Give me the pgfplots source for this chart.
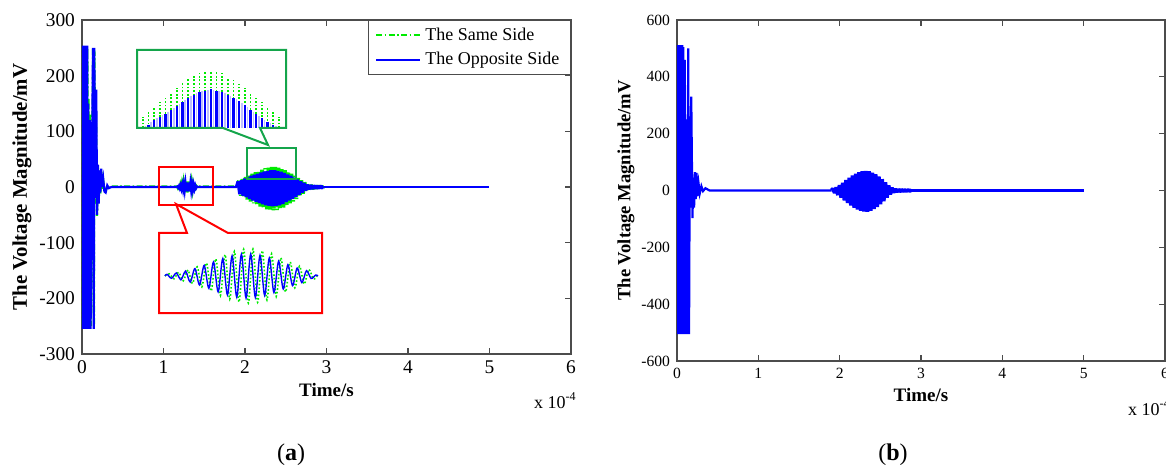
\documentclass[border=0pt]{standalone}
\usepackage{fontspec}
\setmainfont{Liberation Serif}
\usepackage{pgfplots}
\pgfplotsset{compat=1.18}
\definecolor{lgreen}{RGB}{0,235,0}
\definecolor{boxgreen}{RGB}{20,165,75}
\begin{document}
\begin{tikzpicture}
\useasboundingbox (0,0) rectangle (583pt,233pt);
\pgfplotsset{
  mainax/.style={
    scale only axis, anchor=south west, xmin=0, xmax=6, xtick={0,1,2,3,4,5,6},
    tick align=inside, major tick length=3pt,
    axis line style={black!70, line width=0.6pt},
    every tick/.style={black!70, line width=0.6pt},
    /pgf/number format/assume math mode=true,
    xlabel={Time/s}, ylabel={The Voltage Magnitude/mV},
  },
  sameside/.style={lgreen, line width=1.1pt, dash pattern=on 3pt off 1.2pt on 0.8pt off 1.2pt},
  oppside/.style={blue, line width=1.1pt},
  burst/.style={line width=2pt, line join=bevel, forget plot},
}
% ---------------- panel (a)
\begin{axis}[mainax, name=axA, at={(41pt,56pt)}, width=244.5pt, height=167pt,
  ymin=-300, ymax=300, ytick={-300,-200,-100,0,100,200,300},
  tick label style={font=\fontsize{9.7}{11}\selectfont},
  xlabel style={font=\fontsize{9.5}{11}\selectfont\bfseries, at={(axis description cs:0.5,0)}, anchor=center, yshift=-18pt},
  ylabel style={font=\fontsize{10.4}{12}\selectfont\bfseries, at={(axis description cs:-0.1227,0.5)}, anchor=center},
  legend style={at={(1,1)}, anchor=north east, draw=black!70, line width=0.6pt,
    font=\fontsize{9}{10.5}\selectfont, inner xsep=3.5pt, inner ysep=1.5pt, row sep=0.5pt},
  legend cell align=left,
  legend image code/.code={\draw[#1] (0pt,0pt) -- (22pt,0pt);},
]
\addplot[sameside] coordinates {
(0,0)(0.006,250)(0.012,-252)(0.018,250)(0.024,-252)(0.030,250)(0.036,-252)(0.042,250)(0.048,-252)(0.054,250)(0.060,-252)(0.066,250)(0.072,-252)(0.080,160)(0.088,-250)(0.098,130)(0.108,-250)(0.122,0)(0.136,248)(0.146,-250)(0.152,245)(0.166,-30)(0.172,135)(0.185,-52)(0.195,35)(0.205,-25)(0.215,28)(0.225,-12)(0.235,30)(0.245,-3)(0.26,12)(0.275,-9)(0.29,-8)(0.31,2)(0.33,-1)(0.36,1)(1.15,1)
(1.165,1)(1.175,-2)(1.185,2.5)(1.195,-3)(1.205,4)(1.215,-4.5)(1.225,5.5)(1.235,-6)(1.245,7)(1.255,-8)(1.265,8.5)(1.275,-9)(1.285,10)(1.295,-10)(1.305,10)(1.315,-9.5)(1.325,9)(1.335,-8)(1.345,7)(1.355,-6)(1.365,5)(1.375,-4)(1.385,3)(1.395,-2)(1.405,1.5)(1.415,-1)(1.43,1)(1.91,1)
};
\addlegendentry{The Same Side}
\addplot[sameside, burst] coordinates {
(1.91,1)(1.93,12)(1.95,-15.4)(1.97,14.4)(1.99,-18.9)(2.01,18)(2.03,-22.4)(2.05,20.4)(2.07,-25.9)(2.09,24)(2.11,-29.4)(2.13,26.4)(2.15,-32.2)(2.17,28.8)(2.19,-35)(2.21,31.2)(2.23,-37.8)(2.25,33.6)(2.27,-39.9)(2.29,34.8)(2.31,-41.3)(2.33,36)(2.35,-42)(2.37,36)(2.39,-41.3)(2.41,34.8)(2.43,-39.9)(2.45,33)(2.47,-37.1)(2.49,30)(2.51,-32.9)(2.53,27)(2.55,-29.4)(2.57,24)(2.59,-25.9)(2.61,20.4)(2.63,-21.7)(2.65,16.2)(2.67,-16.8)(2.69,12)(2.71,-11.9)(2.73,8.4)(2.75,-7.7)(2.77,4.8)(2.79,-4.9)(2.81,3.6)(2.83,-3.5)(2.85,2.4)(2.87,-2.1)(2.89,1.2)(2.91,-1.4)(2.93,0.6)(2.95,-0.7)(2.97,0)
};
\addplot[sameside, forget plot] coordinates {(2.97,0)(5,0)};
\addplot[oppside] coordinates {
(0,0)(0.004,254)(0.010,-255)(0.016,254)(0.022,-255)(0.028,254)(0.034,-255)(0.040,254)(0.046,-255)(0.052,254)(0.058,-255)(0.064,254)(0.070,-255)(0.076,150)(0.085,-255)(0.095,120)(0.105,-255)(0.120,0)(0.135,250)(0.145,-255)(0.150,250)(0.165,-20)(0.175,175)(0.185,-50)(0.195,40)(0.205,-30)(0.215,30)(0.225,-10)(0.235,33)(0.245,0)(0.26,15)(0.275,-8)(0.29,-10)(0.31,3)(0.33,-2)(0.36,0)(1.16,0)
(1.17,1)(1.18,-1.5)(1.19,2)(1.20,-2.5)(1.21,3)(1.22,-3.5)(1.23,4.5)(1.24,-5)(1.25,6)(1.26,-6.5)(1.27,7)(1.28,-7.5)(1.29,8)(1.30,-8)(1.31,8)(1.32,-7.5)(1.33,7)(1.34,-6.5)(1.35,6)(1.36,-5)(1.37,4.5)(1.38,-3.5)(1.39,3)(1.40,-2)(1.41,1)(1.42,0)(1.90,0)
};
\addlegendentry{The Opposite Side}
\addplot[oppside, burst] coordinates {
(1.90,0)(1.92,10)(1.94,-12.7)(1.96,12)(1.98,-15.5)(2.00,15)(2.02,-18.4)(2.04,17)(2.06,-21.3)(2.08,20)(2.10,-24.2)(2.12,22)(2.14,-26.5)(2.16,24)(2.18,-28.8)(2.20,26)(2.22,-31.1)(2.24,28)(2.26,-32.8)(2.28,29)(2.30,-33.9)(2.32,30)(2.34,-34.5)(2.36,30)(2.38,-33.9)(2.40,29)(2.42,-32.8)(2.44,27.5)(2.46,-30.5)(2.48,25)(2.50,-27.0)(2.52,22.5)(2.54,-24.2)(2.56,20)(2.58,-21.3)(2.60,17)(2.62,-17.8)(2.64,13.5)(2.66,-13.8)(2.68,10)(2.70,-9.8)(2.72,7)(2.74,-6.3)(2.76,4)(2.78,-4.0)(2.80,3)(2.82,-2.9)(2.84,2)(2.86,-1.7)(2.88,1)(2.90,-1.2)(2.92,0.5)(2.94,-0.6)(2.96,0)
};
\addplot[oppside, forget plot] coordinates {(2.96,0)(5,0)};
\end{axis}
% ---------------- panel (b)
\begin{axis}[mainax, name=axB, at={(338.5pt,52.5pt)}, width=244pt, height=170.5pt,
  ymin=-600, ymax=600, ytick={-600,-400,-200,0,200,400,600},
  tick label style={font=\fontsize{7.8}{9}\selectfont},
  xlabel style={font=\fontsize{9.5}{11}\selectfont\bfseries, at={(axis description cs:0.5,0)}, anchor=center, yshift=-17pt},
  ylabel style={font=\fontsize{9.3}{11}\selectfont\bfseries, at={(axis description cs:-0.1045,0.5)}, anchor=center},
]
\addplot[oppside] coordinates {
(0,0)(0.004,512)(0.010,-505)(0.016,512)(0.022,-505)(0.028,512)(0.034,-505)(0.040,512)(0.046,-505)(0.052,512)(0.058,-505)(0.064,512)(0.070,-505)(0.078,505)(0.086,-505)(0.095,460)(0.105,-505)(0.115,250)(0.125,-505)(0.138,500)(0.148,-505)(0.158,250)(0.165,-60)(0.175,330)(0.19,-97)(0.20,45)(0.21,-60)(0.22,65)(0.23,-30)(0.24,62)(0.25,-20)(0.265,25)(0.28,-10)(0.30,15)(0.32,-2)(0.35,8)(0.40,0)(1.90,0)
};
\addplot[oppside, burst] coordinates {
(1.90,0)(1.92,6)(1.94,-8.6)(1.96,11)(1.98,-16.2)(2.00,19)(2.02,-24.8)(2.04,27)(2.06,-34.6)(2.08,37)(2.10,-44.3)(2.12,45)(2.14,-52.9)(2.16,53)(2.18,-60.5)(2.20,59)(2.22,-67)(2.24,64)(2.26,-71.3)(2.28,67.5)(2.30,-74)(2.32,69)(2.34,-74.5)(2.36,68)(2.38,-71.3)(2.40,63)(2.42,-64.8)(2.44,57)(2.46,-58.3)(2.48,49)(2.50,-48.6)(2.52,40)(2.54,-37.8)(2.56,29)(2.58,-24.8)(2.60,18)(2.62,-14)(2.64,10)(2.66,-7.6)(2.68,5)(2.70,-4.3)(2.72,3)(2.74,-2.7)(2.76,2)(2.78,-1.6)(2.80,1.2)(2.82,-1.1)(2.84,0.7)(2.86,-0.4)(2.88,0)
};
\addplot[oppside, forget plot] coordinates {(2.88,0)(5,0)};
\end{axis}
% ---------------- inset: comb (green box)
\begin{axis}[at={(68.5pt,169pt)}, anchor=south west, scale only axis, width=74.5pt, height=39pt,
  xmin=0, xmax=149, ymin=0, ymax=78, hide axis, clip=false]
\addplot[ycomb, lgreen, line width=0.9pt, dash pattern=on 0.9pt off 0.9pt] coordinates {
(5.7,11)(11.4,16)(17.0,21)(22.7,26)(28.4,30)(34.0,35)(39.7,40)(45.4,45)(51.1,50)(56.7,53)(62.4,55)(68.1,57)(73.7,57)(79.4,57)(85.1,55)(90.8,50)(96.4,48)(102.1,44)(107.8,40)(113.4,35)(119.1,30)(124.8,26)(130.4,21)(136.1,16)(141.8,11)
};
\addplot[ycomb, blue!25, line width=0.8pt] coordinates {
(8.5,1.5)(14.2,5.5)(19.9,9.5)(25.5,12.5)(31.2,16)(36.9,20)(42.5,24)(48.2,28)(53.9,31.5)(59.6,34.5)(65.2,36.5)(70.9,38)(76.6,38)(82.2,36.5)(87.9,34.5)(93.6,31.5)(99.3,28.5)(104.9,25)(110.6,20.5)(116.3,16)(121.9,12)(127.6,8)(133.3,4.5)(139.0,1.5)
};
\addplot[ycomb, blue, line width=1.1pt] coordinates {
(5.7,0)(11.4,3)(17.0,8)(22.7,11)(28.4,14)(34.0,18)(39.7,22)(45.4,26)(51.1,30)(56.7,33)(62.4,36)(68.1,37)(73.7,39)(79.4,37)(85.1,36)(90.8,33)(96.4,30)(102.1,27)(107.8,23)(113.4,18)(119.1,14)(124.8,10)(130.4,6)(136.1,3)(141.8,0)
};
\end{axis}
% ---------------- inset: wave (red box)
\begin{axis}[at={(79.5pt,76.5pt)}, anchor=south west, scale only axis, width=81.5pt, height=40pt,
  xmin=0, xmax=163, ymin=-40, ymax=40, hide axis, clip=false]
\addplot[lgreen, line width=0.8pt, densely dotted, smooth] coordinates {
(6,-3)(10.3,-0.9)(14.95,-5.8)(19.6,0.7)(24.25,-7.7)(28.9,3.0)(33.55,-10.5)(38.2,6.1)(42.85,-13.9)(47.5,10.0)(52.15,-18.1)(56.8,14.2)(61.45,-22.4)(66.1,18.4)(70.75,-26.2)(75.4,21.7)(80.05,-29.0)(84.7,23.7)(89.35,-30.1)(94.0,23.9)(98.65,-29.3)(103.3,22.3)(107.95,-26.9)(112.6,19.1)(117.25,-23.3)(121.9,15.2)(126.55,-19.0)(131.2,10.9)(135.85,-14.8)(140.5,6.8)(145.15,-11.1)(149.8,3.5)(154.45,-6)(158,-3)
};
\addplot[blue, line width=0.7pt, smooth] coordinates {
(6,-3)(8,-1.3)(12.65,-5.3)(17.3,0)(21.95,-6.8)(26.6,1.9)(31.25,-9.1)(35.9,4.4)(40.55,-11.9)(45.2,7.6)(49.85,-15.3)(54.5,11.0)(59.15,-18.8)(63.8,14.4)(68.45,-21.9)(73.1,17.1)(77.75,-24.1)(82.4,18.7)(87.05,-25.0)(91.7,18.9)(96.35,-24.4)(101,17.6)(105.65,-22.4)(110.3,15.0)(114.95,-19.5)(119.6,11.8)(124.25,-16.0)(128.9,8.3)(133.55,-12.6)(138.2,5.0)(142.85,-9.6)(147.5,2.3)(152.15,-5.5)(156.8,-2)(159,-3)
};
\end{axis}
% ---------------- annotations
\begin{scope}[x=0.5pt, y=-0.5pt, shift={(0pt,233pt)}]
\draw[boxgreen, line width=1pt, line join=miter] (137,50) -- (286,50) -- (286,128) -- (260,128) -- (268,145) -- (223,128) -- (137,128) -- cycle;
\draw[boxgreen, line width=1pt] (247,148) rectangle (296,179);
\draw[red, line width=1pt, line join=miter] (159,233) -- (187,233) -- (176,204) -- (228,233) -- (322,233) -- (322,313) -- (159,313) -- cycle;
\draw[red, line width=1pt] (159,167) rectangle (213,205);
\end{scope}
\node[anchor=base east, font=\fontsize{9}{10}\selectfont, inner sep=0pt] at ([xshift=3pt,yshift=-27pt]axA.south east) {x 10\textsuperscript{-4}};
\node[anchor=base east, font=\fontsize{9}{10}\selectfont, inner sep=0pt] at ([xshift=3pt,yshift=-27pt]axB.south east) {x 10\textsuperscript{-4}};
\node[font=\fontsize{12}{14}\selectfont] at (145.5pt,5.5pt) {(\textbf{a})};
\node[font=\fontsize{12}{14}\selectfont] at (446.5pt,5.5pt) {(\textbf{b})};
\end{tikzpicture}
\end{document}
